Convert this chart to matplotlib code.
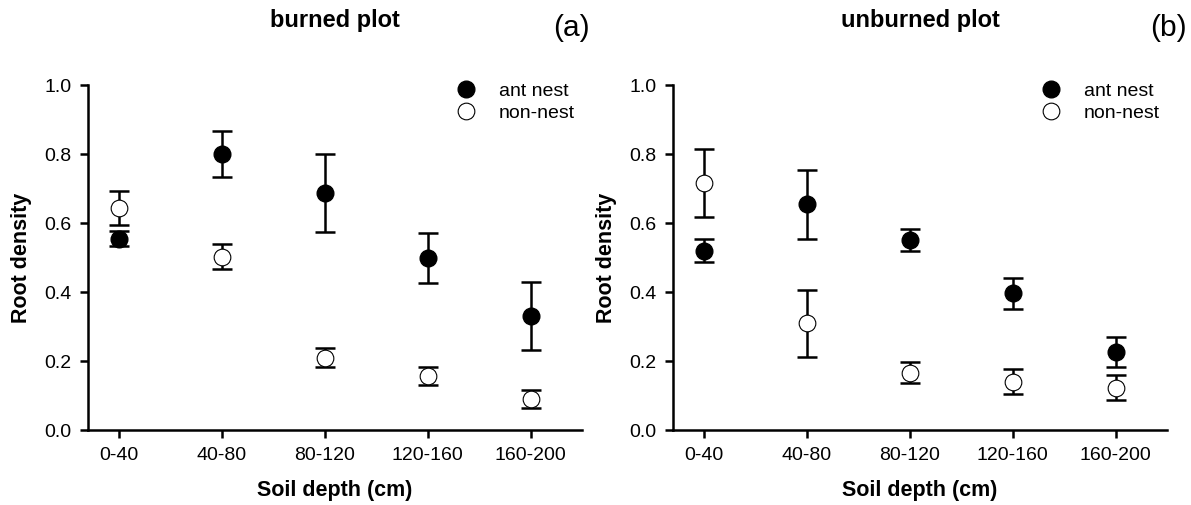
import matplotlib
matplotlib.use("Agg")
import matplotlib.pyplot as plt

plt.rcParams['font.family'] = ['Liberation Sans', 'DejaVu Sans']

depths = ["0-40", "40-80", "80-120", "120-160", "160-200"]

# burned plot (a)
burned_nest = [0.555, 0.80, 0.687, 0.499, 0.331]
burned_nest_err = [0.021, 0.066, 0.112, 0.072, 0.099]
burned_non = [0.643, 0.503, 0.210, 0.157, 0.090]
burned_non_err = [0.050, 0.036, 0.027, 0.027, 0.027]

# unburned plot (b)
unburned_nest = [0.520, 0.655, 0.551, 0.397, 0.226]
unburned_nest_err = [0.034, 0.100, 0.031, 0.045, 0.044]
unburned_non = [0.716, 0.309, 0.166, 0.140, 0.123]
unburned_non_err = [0.098, 0.096, 0.031, 0.036, 0.036]

fig = plt.figure(figsize=(11.91, 5.05), dpi=100)
ax1 = fig.add_axes([0.0739, 0.1485, 0.4148, 0.683])
ax2 = fig.add_axes([0.5651, 0.1485, 0.4148, 0.683])

x = list(range(1, len(depths) + 1))

def draw(ax, nest, nest_err, non, non_err):
    ax.errorbar(x, nest, yerr=nest_err, fmt='none', ecolor='black',
                capsize=7, elinewidth=1.8, capthick=1.8, zorder=2)
    ax.errorbar(x, non, yerr=non_err, fmt='none', ecolor='black',
                capsize=7, elinewidth=1.8, capthick=1.8, zorder=2)
    ax.plot(x, nest, 'o', ms=12, mfc='black', mec='black', mew=1,
            label='ant nest', zorder=3)
    ax.plot(x, non, 'o', ms=12, mfc='white', mec='black', mew=0.8,
            label='non-nest', zorder=3)
    ax.set_xlim(0.7, 5.5)
    ax.set_ylim(0, 1.0)
    ax.set_xticks(x)
    ax.set_xticklabels(depths)
    ax.set_yticks([0.0, 0.2, 0.4, 0.6, 0.8, 1.0])
    ax.set_yticklabels(['0.0', '0.2', '0.4', '0.6', '0.8', '1.0'])
    ax.spines['top'].set_visible(False)
    ax.spines['right'].set_visible(False)
    ax.spines['left'].set_linewidth(1.8)
    ax.spines['bottom'].set_linewidth(1.8)
    ax.tick_params(direction='out', length=6, width=1.8, labelsize=14, pad=6)
    ax.set_ylabel('Root density', fontsize=15.5, fontweight='bold', labelpad=9)
    ax.set_xlabel('Soil depth (cm)', fontsize=15.5, fontweight='bold', labelpad=12)
    ax.legend(loc='upper left', bbox_to_anchor=(0.745, 1.007),
              borderaxespad=0, borderpad=0, frameon=False, fontsize=14,
              handletextpad=1.2, labelspacing=0.2, handlelength=1.0)

draw(ax1, burned_nest, burned_nest_err, burned_non, burned_non_err)
draw(ax2, unburned_nest, unburned_nest_err, unburned_non, unburned_non_err)

fig.text(335 / 1191, 1 - 20 / 505, 'burned plot', fontsize=17,
         fontweight='bold', ha='center', va='center')
fig.text(920 / 1191, 1 - 20 / 505, 'unburned plot', fontsize=17,
         fontweight='bold', ha='center', va='center')
fig.text(571 / 1191, 1 - 28 / 505, '(a)', fontsize=21.5, ha='center', va='center')
fig.text(1168 / 1191, 1 - 28 / 505, '(b)', fontsize=21.5, ha='center', va='center')

fig.savefig('out.png', dpi=100)
